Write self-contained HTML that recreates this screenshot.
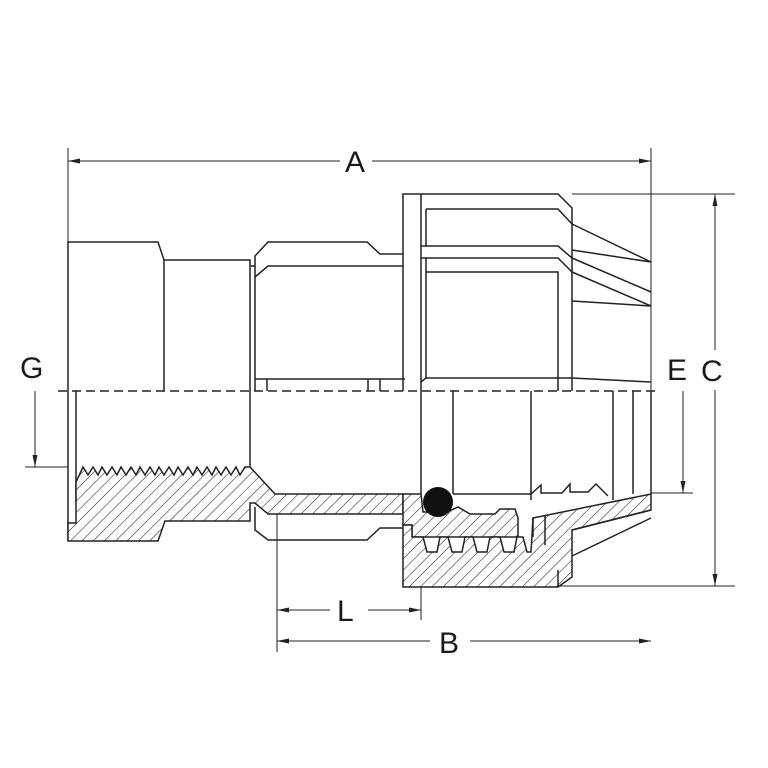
<!DOCTYPE html>
<html><head><meta charset="utf-8"><style>
html,body{margin:0;padding:0;background:#fff}
svg{display:block}
text{font-family:"Liberation Sans",sans-serif;font-size:30px;fill:#1a1a1a}
</style></head><body>
<svg width="768" height="768" viewBox="0 0 768 768" xmlns="http://www.w3.org/2000/svg">
<defs>
<pattern id="h" patternUnits="userSpaceOnUse" width="8" height="8" patternTransform="rotate(45)">
<rect width="8" height="8" fill="#fff"/><line x1="0" y1="0" x2="0" y2="8" stroke="#222" stroke-width="1.1"/>
</pattern>
<marker id="ar" viewBox="0 0 12 6" refX="12" refY="3" markerWidth="12" markerHeight="6" orient="auto" markerUnits="userSpaceOnUse">
<path d="M0,0.5 L12,3 L0,5.5 Z" fill="#222" stroke="none"/>
</marker>
</defs>
<g fill="none" stroke="#222" stroke-width="1.5">
<path d="M68,391 V242 H158 L164,260 V391"/>
<path d="M164,260 H250 V391 M250,266 H255"/>
<path d="M255,391 V256 L268,242 H367 L380,254 H403"/>
<path d="M255,277 L268,266 H403"/>
<path d="M255,379 H405 M267,379 V391 M368,379 V391 M380,379 V391"/>
<path d="M403,391 V194 H558 L572,208 V391"/>
<path d="M421,391 V194 M426,209 H558 L572,224 M426,209 V246"/>
<path d="M572,224 L651,262 M572,250 L651,262"/>
<path d="M421,246 H558 L572,258 M421,258 H558 L572,272 M426,272 H558 V391"/>
<path d="M426,258 V379 M572,258 L651,292 M572,272 L651,306 M572,301 L651,306"/>
<path d="M421,382 L426,378 H572 L651,382"/>
<path d="M58,391 H660" stroke-dasharray="9,5"/>
<path d="M76,391 V503 M68,391 V541 M250,391 V467"/>
<path d="M421,391 V494 M453,391 V494 M531,391 V500 M613,391 V500 M633,391 V494 M651,391 V494"/>
<path d="M453,494 H531 L541,485 V493 L562,493 L570,484 V492 L588,492 L596,484 L608,496"/>
</g>
<g fill="url(#h)" stroke="#222" stroke-width="1.5">
<path d="M68,541 H158 L165,521 H250 V503 H255 L268,514 H403 V494 H275 L250,467 L245,467 L240,475 L236,467 L231,475 L226,467 L221,475 L216,467 L212,475 L207,467 L202,475 L197,467 L193,475 L188,467 L183,475 L178,467 L174,475 L169,467 L164,475 L159,467 L155,475 L150,467 L145,475 L140,467 L136,475 L131,467 L126,475 L121,467 L117,475 L112,467 L107,475 L102,467 L98,475 L93,467 L88,475 L83,467 L76,482 V523 H68 Z"/>
<path d="M403,494 H421 L423,512 L447,512 L458,507 L470,514 H495 L500,509 H515 L518,518 V537 H412 V525 H403 Z"/>
<path d="M403,525 H412 V537 H423 L427,552 H437 L440,537 H448 L452,552 H462 L465,537 H473 L477,552 H487 L490,537 H500 L504,552 H514 L517,537 H523 L527,552 H531 L533,518 L651,494 V510 L572,530 V577 L558,587 H403 Z"/>
</g>
<g fill="none" stroke="#222" stroke-width="1.5">
<path d="M255,507 V530 L268,540 H367 L380,528 H403"/>
<path d="M558,587 V570 M533,518 V537 M545,515 V545"/>
<path d="M572,556 L651,518 M572,530 L651,510"/>
</g>
<circle cx="438" cy="502" r="15" fill="#111"/>
<g fill="none" stroke="#222" stroke-width="1">
<path d="M68,148 V242 M651,148 V494"/>
<path d="M340,161 H68" marker-end="url(#ar)"/><path d="M372,161 H651" marker-end="url(#ar)"/>
<path d="M572,194 H735 M558,586 H735"/>
<path d="M715,350 V194" marker-end="url(#ar)"/><path d="M715,390 V586" marker-end="url(#ar)"/>
<path d="M651,493 H693"/>
<path d="M683,391 V493" marker-end="url(#ar)"/>
<path d="M25,467 H68"/>
<path d="M35,391 V467" marker-end="url(#ar)"/>
<path d="M277,514 V652 M421,586 V620"/>
<path d="M330,610 H277" marker-end="url(#ar)"/><path d="M368,610 H421" marker-end="url(#ar)"/>
<path d="M430,641 H277" marker-end="url(#ar)"/><path d="M470,641 H651" marker-end="url(#ar)"/>
</g>
<rect x="700" y="355" width="28" height="30" fill="#fff"/>
<text x="345" y="172">A</text>
<text x="20" y="378">G</text>
<text x="667" y="380">E</text>
<text x="701" y="381">C</text>
<text x="337" y="621">L</text>
<text x="439" y="653">B</text>
</svg>
</body></html>
